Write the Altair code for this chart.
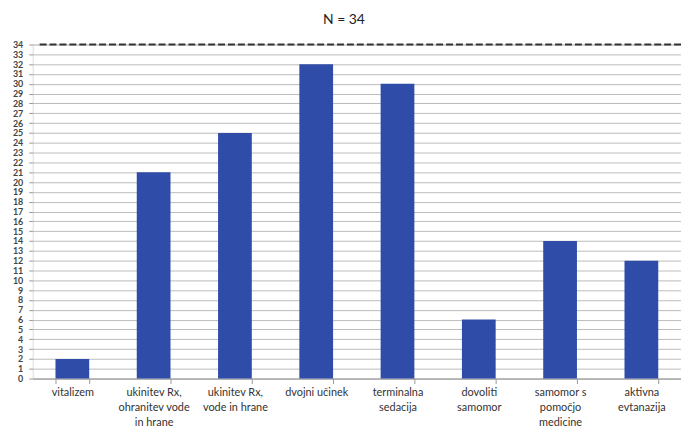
import altair as alt
import pandas as pd

categories = [
    "vitalizem",
    "ukinitev Rx,|ohranitev vode|in hrane",
    "ukinitev Rx,|vode in hrane",
    "dvojni učinek",
    "terminalna|sedacija",
    "dovoliti|samomor",
    "samomor s|pomočjo|medicine",
    "aktivna|evtanazija",
]
values = [2, 21, 25, 32, 30, 6, 14, 12]
n_total = 34
y_ticks = list(range(0, 35))

df = pd.DataFrame({"cat": categories, "val": values})
ref = pd.DataFrame({"val": [n_total]})

font = "Lato"

y_axis = alt.Axis(
    values=y_ticks,
    tickCount=40,
    labelOverlap=False,
    labelFont=font,
    labelFontSize=9,
    labelFontWeight="bold",
    labelColor="#444444",
    labelPadding=6,
    gridColor="#BBBBBB",
    gridWidth=1,
    domain=False,
    tickColor="#999999",
    tickSize=4,
)
y_scale = alt.Scale(domain=[0, 34], nice=False)

bars = alt.Chart(df).mark_bar(color="#2F4DA8").encode(
    x=alt.X(
        "cat:N",
        sort=categories,
        title=None,
        scale=alt.Scale(paddingInner=0.585, paddingOuter=0.28),
        axis=alt.Axis(
            labelAngle=0,
            labelExpr="split(datum.label, '|')",
            labelFont=font,
            labelFontSize=11,
            labelColor="#333333",
            labelPadding=3,
            labelLineHeight=15,
            labelOverlap=False,
            domainColor="#999999",
            tickColor="#999999",
            tickBand="extent",
            tickSize=5,
            grid=False,
        ),
    ),
    y=alt.Y("val:Q", title=None, scale=y_scale, axis=y_axis),
)

rule = alt.Chart(ref).mark_rule(
    color="#333333", strokeWidth=2, strokeDash=[7, 3]
).encode(
    y=alt.Y("val:Q", title=None, scale=y_scale, axis=y_axis),
    x=alt.value(7),
    x2=alt.value(654),
)

chart = (
    alt.layer(bars, rule)
    .properties(
        width=654,
        height=337,
        title=alt.TitleParams(
            "N = 34", font=font, fontSize=14, fontWeight="normal",
            color="#222222", anchor="middle", offset=14, dx=-13,
        ),
        autosize=alt.AutoSizeParams(type="none"),
        padding={"left": 33, "top": 43, "right": 0, "bottom": 49},
    )
    .configure_view(stroke=None)
    .configure(background="white")
)

chart.save("out.html", embed_options={"renderer": "svg", "actions": False})
